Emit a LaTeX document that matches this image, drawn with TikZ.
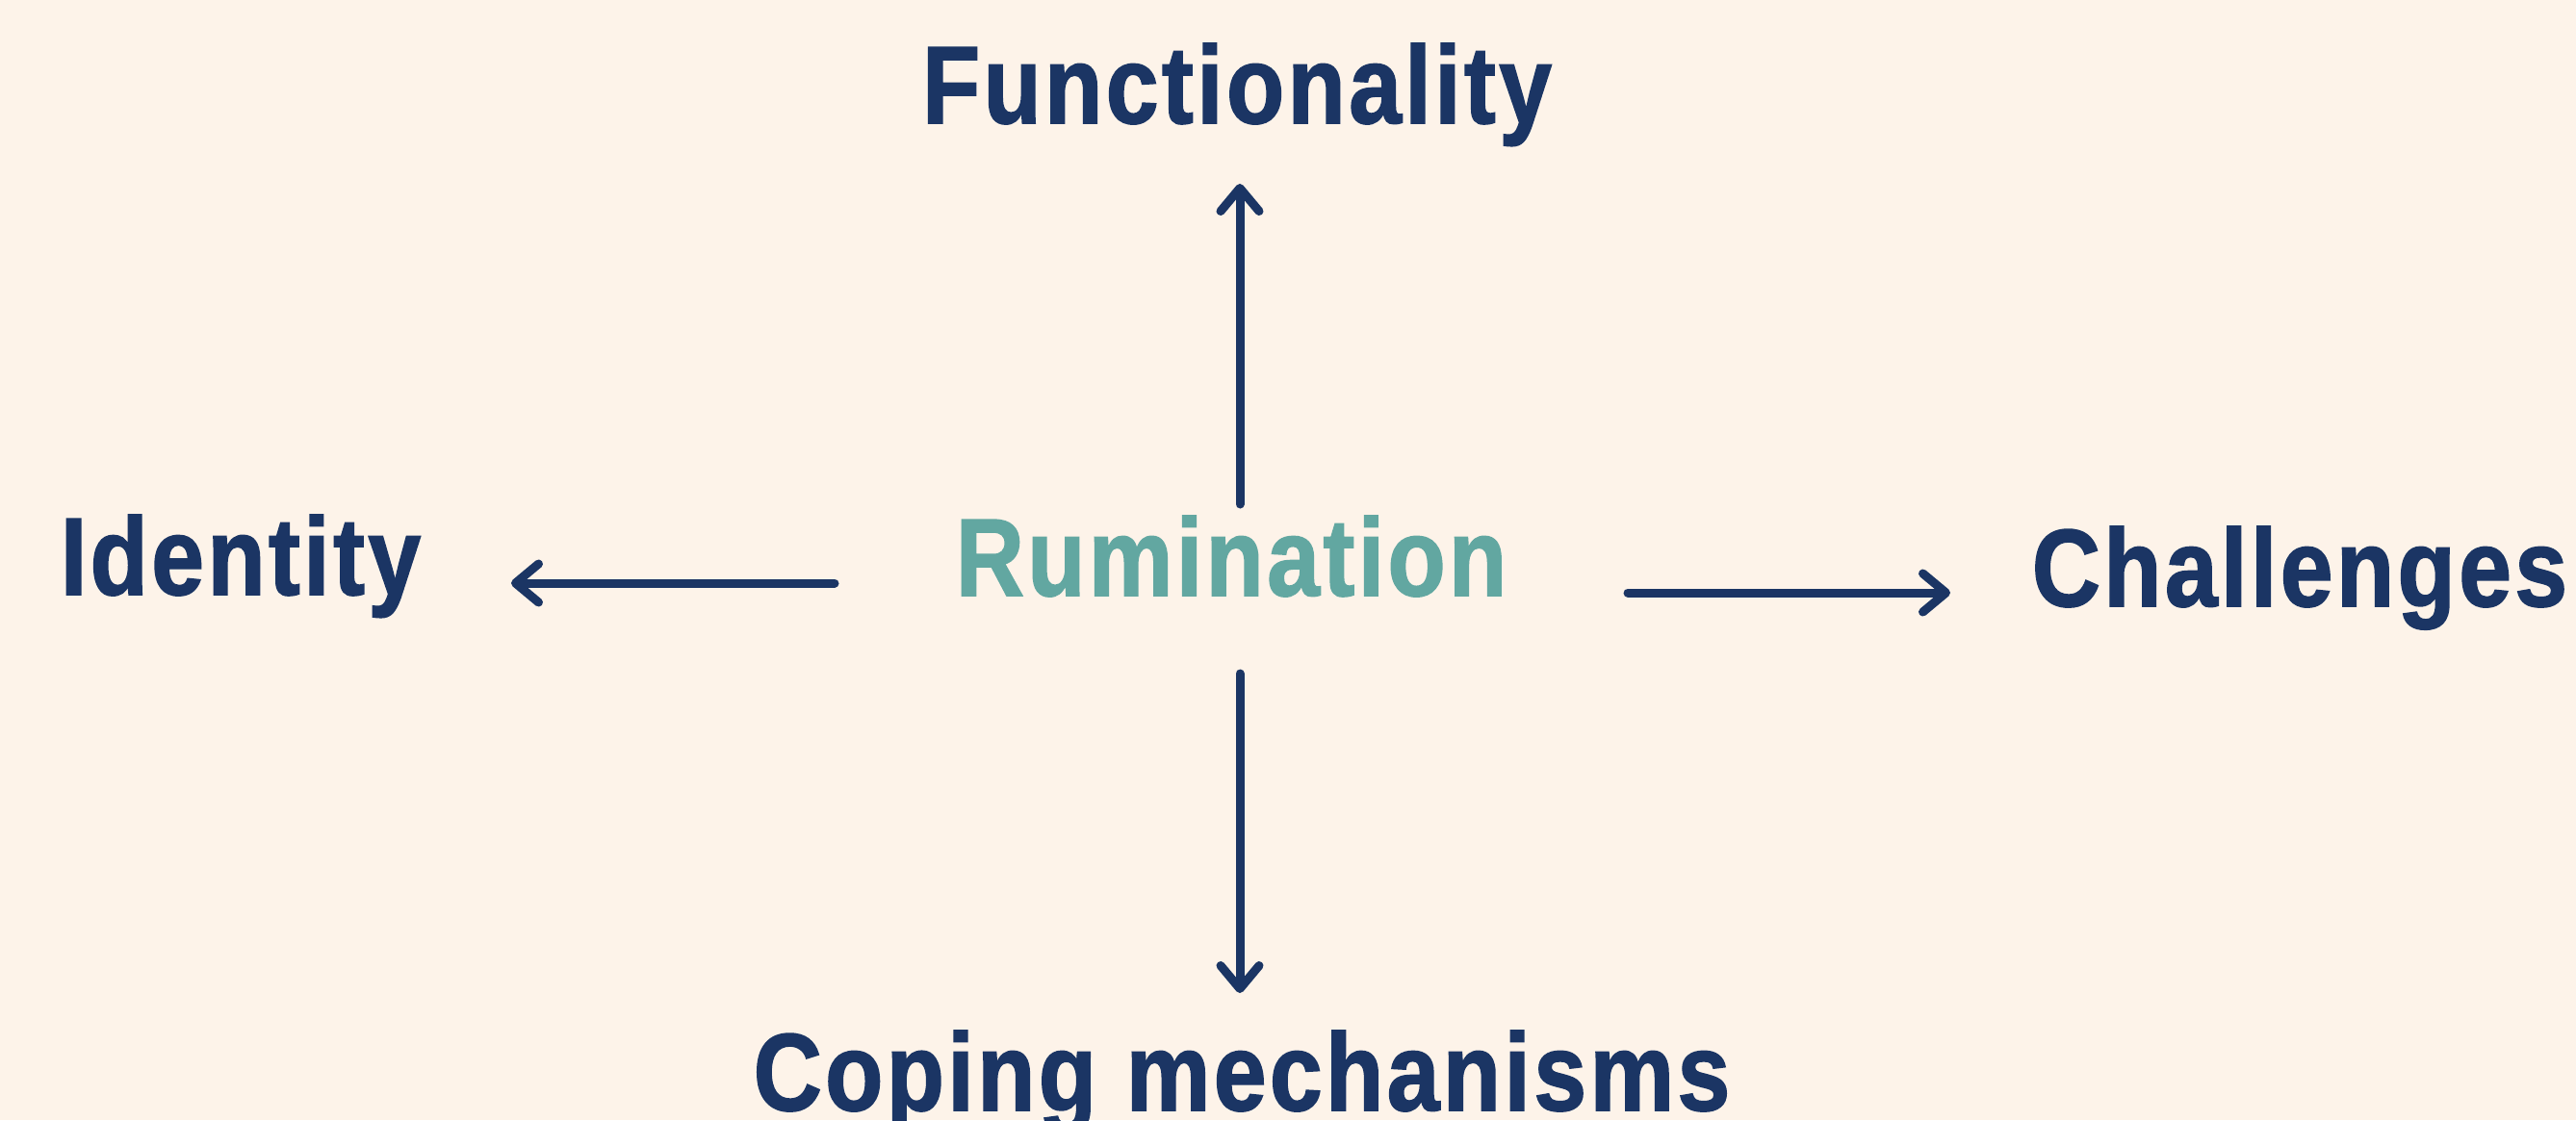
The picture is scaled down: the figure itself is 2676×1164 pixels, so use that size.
\documentclass[tikz,border=0pt]{standalone}
\usepackage{fontspec}
\usetikzlibrary{arrows.meta}
\newfontfamily\labfont[FakeStretch=0.86,FakeBold=1.4,LetterSpace=3]{Liberation Sans}
\definecolor{bgc}{HTML}{FDF3E9}
\definecolor{navy}{HTML}{1B3564}
\definecolor{teal}{HTML}{62A7A1}
\tikzset{
  lab/.style={anchor=base, inner sep=0pt, text=navy, font=\labfont\bfseries\fontsize{114.5bp}{130bp}\selectfont},
  hub/.style={lab, text=teal},
  arr/.style={draw=navy, line width=9bp, line cap=round, -{Straight Barb[length=24bp,width=40bp,round]}}
}
\begin{document}
\begin{tikzpicture}[x=1bp,y=-1bp]
\fill[bgc] (0,0) rectangle (2676,1164);
\useasboundingbox (0,0) rectangle (2676,1164);
\node[hub] (rum) at (1279,619) {Rumination};
\node[lab] (func) at (1285,128) {Functionality};
\node[lab] (iden) at (250,618) {Identity};
\node[lab] (chal) at (2389,630) {Challenges};
\node[lab] (cope) at (1290,1154) {Coping mechanisms};
\coordinate (upS) at (1288,524);
\coordinate (upE) at (1288,191);
\coordinate (lfS) at (867,606);
\coordinate (lfE) at (531,606);
\coordinate (rtS) at (1691,616);
\coordinate (rtE) at (2026,616);
\coordinate (dnS) at (1288,700);
\coordinate (dnE) at (1288,1032);
\draw[arr] (upS) -- (upE);
\draw[arr] (lfS) -- (lfE);
\draw[arr] (rtS) -- (rtE);
\draw[arr] (dnS) -- (dnE);
\end{tikzpicture}
\end{document}
